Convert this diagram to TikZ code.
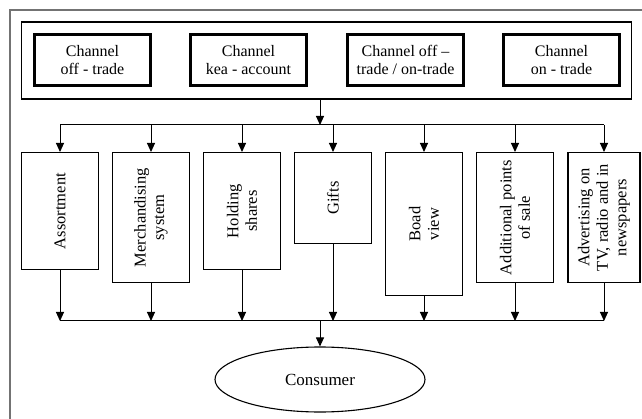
\documentclass[tikz,border=0pt]{standalone}
\usepackage{fontspec}
\setmainfont{Liberation Serif}
\usetikzlibrary{arrows.meta,shapes.geometric}

\begin{document}
\begin{tikzpicture}[x=1pt,y=-1pt,
    chanbox/.style={draw,line width=3pt,minimum width=116,minimum height=51,
        align=center,font=\fontsize{16}{17.5}\selectfont},
    toolbox/.style={draw,line width=1.1pt,rotate=90,anchor=east,minimum height=77,
        inner sep=2pt,align=center,font=\fontsize{16.5}{18.5}\selectfont},
    arr/.style={-{Triangle[length=9pt,width=8pt]},line width=1pt}]
\useasboundingbox (0,0) rectangle (642,419);
% frame, only top and left edges show
\draw[black!55,line width=1.2pt] (10,419)--(10,10)--(642,10);
\node[draw,line width=1.3pt,minimum width=610,minimum height=77] (group) at (326.5,60.5) {};
\node[chanbox] (off) at (92.5,60) {Channel\\off - trade};
\node[chanbox] (kea) at (248.5,60) {Channel\\kea - account};
\node[chanbox] (mix) at (405.5,60) {Channel off --\\trade / on-trade};
\node[chanbox] (on) at (561.5,60) {Channel\\on - trade};
% distribution lines
\coordinate (top) at (320,125);
\coordinate (topL) at (60,125);
\coordinate (topR) at (604,125);
\coordinate (bot) at (320,321);
\coordinate (botL) at (60,321);
\coordinate (botR) at (604,321);
\draw[line width=1pt] (topL)--(topR);
\draw[line width=1pt] (botL)--(botR);
\draw[arr] (group.south -| top) -- (top);
% the tools
\node[toolbox,minimum width=117] (assort) at (60,152) {Assortment};
\node[toolbox,minimum width=130] (merch) at (151,152) {Merchandising\\system};
\node[toolbox,minimum width=117] (hold) at (242,152) {Holding\\shares};
\node[toolbox,minimum width=91] (gifts) at (333,152) {Gifts};
\node[toolbox,minimum width=143] (boad) at (424,152) {Boad\\view};
\node[toolbox,minimum width=130] (addp) at (515,152) {Additional points\\of sale};
\node[toolbox,minimum width=130,minimum height=72] (advert) at (604,152) {Advertising on\\TV, radio and in\\newspapers};
\foreach \t in {assort,merch,hold,gifts,boad,addp,advert}{
    \draw[arr] (topL -| \t.east) -- (\t.east);
    \draw[arr] (\t.west) -- (botL -| \t.west);
}
\node[draw,ellipse,line width=1.1pt,minimum width=210,minimum height=65,
    font=\fontsize{17}{19}\selectfont] (cons) at (320,379.5) {Consumer};
\draw[arr] (bot) -- (cons.north);
\end{tikzpicture}
\end{document}
